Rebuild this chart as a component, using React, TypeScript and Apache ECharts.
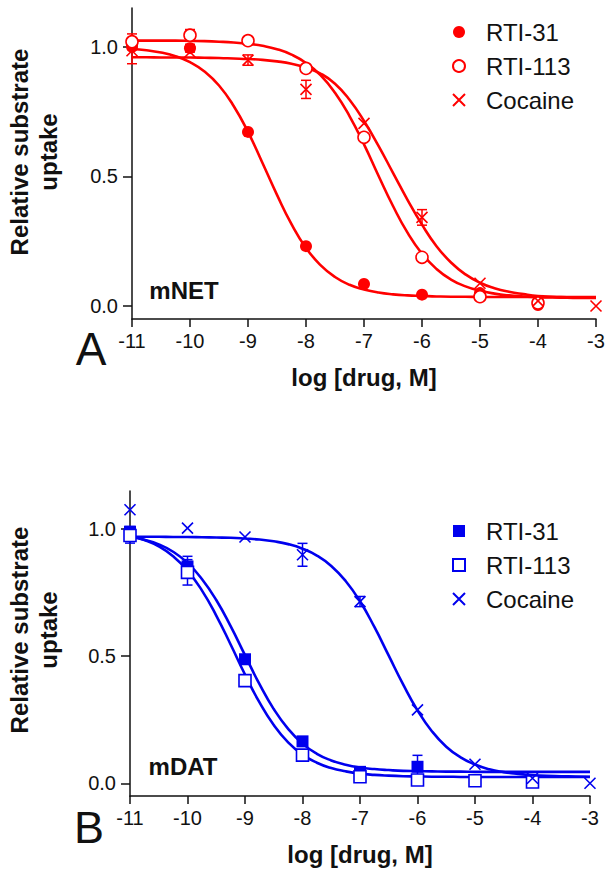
import React, { useEffect, useRef } from "react";
import * as echarts from "echarts";

// ---- data ----
const doseLog = [-11, -10, -9, -8, -7, -6, -5, -4, -3];
const xTickValues = [-11, -10, -9, -8, -7, -6, -5, -4, -3];
const yTickValues = [0, 0.5, 1.0];

// Panel A: mNET
const netRti31 = [1.0, 0.995, 0.672, 0.231, 0.085, 0.044, 0.05, 0.004, null];
const netRti31Err = [0.01, 0.015, 0, 0, 0, 0, 0, 0, null];
const netRti113 = [1.02, 1.045, 1.024, 0.917, 0.651, 0.188, 0.036, 0.012, null];
const netRti113Err = [0.03, 0.022, 0, 0.012, 0, 0, 0, 0, null];
const netCocaine = [0.985, 0.98, 0.949, 0.836, 0.705, 0.342, 0.088, 0.02, 0.0];
const netCocaineErr = [0.05, 0, 0.02, 0.035, 0, 0.03, 0, 0, 0];

// Panel B: mDAT
const datRti31 = [0.99, 0.853, 0.488, 0.165, 0.045, 0.065, 0.01, 0.005, null];
const datRti31Err = [0.02, 0.04, 0, 0, 0, 0.045, 0, 0, null];
const datRti113 = [0.975, 0.83, 0.404, 0.111, 0.026, 0.013, 0.01, 0.005, null];
const datRti113Err = [0.03, 0.05, 0, 0, 0, 0, 0, 0, null];
const datCocaine = [1.076, 1.004, 0.969, 0.899, 0.715, 0.289, 0.075, 0.02, 0.0];
const datCocaineErr = [0, 0, 0, 0.045, 0.02, 0, 0, 0, 0];

// Fitted curves
const curveLogDose = [
  -11, -10.75, -10.5, -10.25, -10, -9.75, -9.5, -9.25, -9, -8.75, -8.5, -8.25, -8,
  -7.75, -7.5, -7.25, -7, -6.75, -6.5, -6.25, -6, -5.75, -5.5, -5.25, -5, -4.75,
  -4.5, -4.25, -4, -3.75, -3.5, -3.25, -3,
];
const netFitRti31 = [
  0.992, 0.987, 0.978, 0.964, 0.941, 0.905, 0.851, 0.773, 0.672, 0.552, 0.429, 0.316, 0.224,
  0.158, 0.112, 0.082, 0.064, 0.052, 0.045, 0.041, 0.039, 0.037, 0.036, 0.036, 0.035, 0.035,
  0.035, 0.035, 0.035, 0.035, 0.035, 0.035, 0.035,
];
const netFitRti113 = [
  1.025, 1.024, 1.024, 1.024, 1.023, 1.022, 1.02, 1.017, 1.012, 1.004, 0.991, 0.97, 0.938,
  0.891, 0.823, 0.733, 0.624, 0.503, 0.386, 0.283, 0.202, 0.143, 0.102, 0.076, 0.059, 0.048,
  0.041, 0.037, 0.034, 0.033, 0.032, 0.031, 0.031,
];
const netFitCocaine = [
  0.96, 0.96, 0.959, 0.959, 0.959, 0.958, 0.957, 0.955, 0.953, 0.95, 0.944, 0.935, 0.92,
  0.897, 0.858, 0.796, 0.714, 0.618, 0.514, 0.41, 0.314, 0.231, 0.168, 0.122, 0.09, 0.069,
  0.055, 0.046, 0.039, 0.036, 0.034, 0.032, 0.032,
];
const datFitRti31 = [
  0.97, 0.958, 0.94, 0.911, 0.867, 0.804, 0.721, 0.618, 0.504, 0.391, 0.292, 0.214, 0.156,
  0.116, 0.09, 0.073, 0.062, 0.056, 0.052, 0.049, 0.048, 0.047, 0.046, 0.046, 0.045, 0.045,
  0.045, 0.045, 0.045, 0.045, 0.045, 0.045, 0.045,
];
const datFitRti113 = [
  0.973, 0.957, 0.932, 0.893, 0.837, 0.759, 0.66, 0.546, 0.428, 0.319, 0.229, 0.161, 0.113,
  0.081, 0.06, 0.047, 0.038, 0.033, 0.03, 0.028, 0.027, 0.026, 0.026, 0.025, 0.025, 0.025,
  0.025, 0.025, 0.025, 0.025, 0.025, 0.025, 0.025,
];
const datFitCocaine = [
  0.97, 0.97, 0.97, 0.969, 0.969, 0.968, 0.967, 0.966, 0.963, 0.959, 0.952, 0.941, 0.923,
  0.896, 0.855, 0.796, 0.716, 0.615, 0.502, 0.389, 0.287, 0.205, 0.144, 0.102, 0.074, 0.055,
  0.044, 0.037, 0.032, 0.029, 0.028, 0.027, 0.026,
];

const legendNames = ["RTI-31", "RTI-113", "Cocaine"];

// ---- styles ----
const RED = "#ff0000";
const BLUE = "#0000ee";
const INK = "#111111";
const FONT = "'Liberation Sans', Arial, Helvetica, sans-serif";
const X_SYMBOL = "path://M0,0L10,10M10,0L0,10";
const SQUARE = "path://M0,0L10,0L10,10L0,10Z";

const pts = (vals: (number | null)[]) =>
  doseLog.map((x, i) => (vals[i] == null ? null : [x, vals[i]])).filter(Boolean);
const errs = (vals: (number | null)[], e: (number | null)[]) =>
  doseLog
    .map((x, i) => (vals[i] != null && e[i] ? [x, vals[i], e[i]] : null))
    .filter(Boolean);
const curve = (vals: number[]) => curveLogDose.map((x, i) => [x, vals[i]]);

function errorSeries(idx: number, color: string, data: any[]) {
  return {
    type: "custom",
    xAxisIndex: idx,
    yAxisIndex: idx,
    silent: true,
    clip: false,
    z: 3,
    encode: { x: 0, y: 1 },
    data,
    renderItem: (_p: any, api: any) => {
      const x = api.value(0);
      const y = api.value(1);
      const e = api.value(2);
      const top = api.coord([x, y + e]);
      const bot = api.coord([x, y - e]);
      const hw = 5;
      const style = { stroke: color, lineWidth: 1.5, fill: null };
      return {
        type: "group",
        children: [
          { type: "line", shape: { x1: top[0], y1: top[1], x2: bot[0], y2: bot[1] }, style },
          { type: "line", shape: { x1: top[0] - hw, y1: top[1], x2: top[0] + hw, y2: top[1] }, style },
          { type: "line", shape: { x1: bot[0] - hw, y1: bot[1], x2: bot[0] + hw, y2: bot[1] }, style },
        ],
      };
    },
  };
}

function fitSeries(idx: number, color: string, vals: number[]) {
  return {
    type: "line",
    xAxisIndex: idx,
    yAxisIndex: idx,
    data: curve(vals),
    showSymbol: false,
    symbol: "none",
    smooth: 0.5,
    silent: true,
    z: 2,
    lineStyle: { color, width: 2.6 },
  };
}

type Kind = "filled" | "open" | "cross";

function pointSeries(
  idx: number,
  prefix: string,
  name: string,
  color: string,
  symbol: string,
  kind: Kind,
  size: number,
  vals: (number | null)[]
) {
  const itemStyle =
    kind === "filled"
      ? { color, opacity: 1 }
      : kind === "open"
      ? { color: "#ffffff", borderColor: color, borderWidth: 1.6, opacity: 1 }
      : { color, borderColor: color, borderWidth: 1.6, opacity: 1 };
  return {
    type: "scatter",
    name: prefix + name,
    xAxisIndex: idx,
    yAxisIndex: idx,
    data: pts(vals),
    symbol,
    symbolSize: size,
    z: 4,
    itemStyle,
  };
}

function xAxis(idx: number) {
  return {
    type: "value",
    gridIndex: idx,
    min: -11,
    max: -3,
    interval: 1,
    axisLine: { show: true, onZero: false, lineStyle: { color: INK, width: 1.5 } },
    axisTick: { show: true, length: 8, customValues: xTickValues, lineStyle: { color: INK, width: 1.5 } },
    axisLabel: {
      customValues: xTickValues,
      showMinLabel: true,
      showMaxLabel: true,
      fontSize: 20,
      fontFamily: FONT,
      color: INK,
      margin: 12,
    },
    splitLine: { show: false },
    name: "log [drug, M]",
    nameLocation: "middle",
    nameGap: 46,
    nameTextStyle: { fontSize: 24, fontWeight: "bold", fontFamily: FONT, color: INK },
  };
}

function yAxis(idx: number) {
  return {
    type: "value",
    gridIndex: idx,
    min: -0.05,
    max: 1.15,
    axisLine: { show: true, onZero: false, lineStyle: { color: INK, width: 1.5 } },
    axisTick: { show: true, length: 9, customValues: yTickValues, lineStyle: { color: INK, width: 1.5 } },
    axisLabel: {
      customValues: yTickValues,
      formatter: (v: number) => v.toFixed(1),
      fontSize: 20,
      fontFamily: FONT,
      color: INK,
      margin: 14,
    },
    splitLine: { show: false },
  };
}

function legend(prefix: string, top: number) {
  return {
    data: legendNames.map((n) => prefix + n),
    orient: "vertical",
    left: 452,
    top,
    padding: 0,
    itemWidth: 12,
    itemHeight: 12,
    itemGap: 10,
    selectedMode: false,
    formatter: (name: string) => name.split(":")[1],
    textStyle: { fontSize: 24, fontFamily: FONT, color: INK, lineHeight: 24, padding: [0, 0, 0, 16] },
  };
}

function buildOption() {
  return {
    animation: false,
    backgroundColor: "#ffffff",
    grid: [
      { left: 132, top: 8, width: 464, height: 311 },
      { left: 130, top: 491, width: 460, height: 305 },
    ],
    xAxis: [xAxis(0), xAxis(1)],
    yAxis: [yAxis(0), yAxis(1)],
    legend: [legend("A:", 20), legend("B:", 519)],
    graphic: [
      {
        type: "text",
        x: 34,
        y: 152,
        rotation: Math.PI / 2,
        style: {
          text: "Relative substrate\nuptake",
          font: `bold 24px ${FONT}`,
          fill: INK,
          align: "center",
          verticalAlign: "middle",
          lineHeight: 29,
        },
      },
      {
        type: "text",
        x: 34,
        y: 630,
        rotation: Math.PI / 2,
        style: {
          text: "Relative substrate\nuptake",
          font: `bold 24px ${FONT}`,
          fill: INK,
          align: "center",
          verticalAlign: "middle",
          lineHeight: 29,
        },
      },
      {
        type: "text",
        x: 184,
        y: 290,
        style: { text: "mNET", font: `bold 24px ${FONT}`, fill: INK, align: "center", verticalAlign: "middle" },
      },
      {
        type: "text",
        x: 183,
        y: 766,
        style: { text: "mDAT", font: `bold 24px ${FONT}`, fill: INK, align: "center", verticalAlign: "middle" },
      },
      {
        type: "text",
        x: 91,
        y: 349,
        style: { text: "A", font: `46px ${FONT}`, fill: INK, align: "center", verticalAlign: "middle" },
      },
      {
        type: "text",
        x: 89,
        y: 827,
        style: { text: "B", font: `45px ${FONT}`, fill: INK, align: "center", verticalAlign: "middle" },
      },
    ],
    series: [
      fitSeries(0, RED, netFitRti31),
      fitSeries(0, RED, netFitRti113),
      fitSeries(0, RED, netFitCocaine),
      errorSeries(0, RED, [
        ...errs(netRti31, netRti31Err),
        ...errs(netRti113, netRti113Err),
        ...errs(netCocaine, netCocaineErr),
      ]),
      pointSeries(0, "A:", "RTI-31", RED, "circle", "filled", 12, netRti31),
      pointSeries(0, "A:", "RTI-113", RED, "circle", "open", 12, netRti113),
      pointSeries(0, "A:", "Cocaine", RED, X_SYMBOL, "cross", 11, netCocaine),

      fitSeries(1, BLUE, datFitRti31),
      fitSeries(1, BLUE, datFitRti113),
      fitSeries(1, BLUE, datFitCocaine),
      errorSeries(1, BLUE, [
        ...errs(datRti31, datRti31Err),
        ...errs(datRti113, datRti113Err),
        ...errs(datCocaine, datCocaineErr),
      ]),
      pointSeries(1, "B:", "RTI-31", BLUE, SQUARE, "filled", 12, datRti31),
      pointSeries(1, "B:", "RTI-113", BLUE, SQUARE, "open", 12, datRti113),
      pointSeries(1, "B:", "Cocaine", BLUE, X_SYMBOL, "cross", 11, datCocaine),
    ],
  };
}

export default function App() {
  const ref = useRef<HTMLDivElement>(null);
  useEffect(() => {
    if (!ref.current) return;
    const chart = echarts.init(ref.current, undefined, { renderer: "svg" });
    chart.setOption(buildOption() as any);
    return () => chart.dispose();
  }, []);
  return (
    <div
      ref={ref}
      style={{ position: "fixed", left: 0, top: 0, width: 612, height: 878, background: "#fff" }}
    />
  );
}
